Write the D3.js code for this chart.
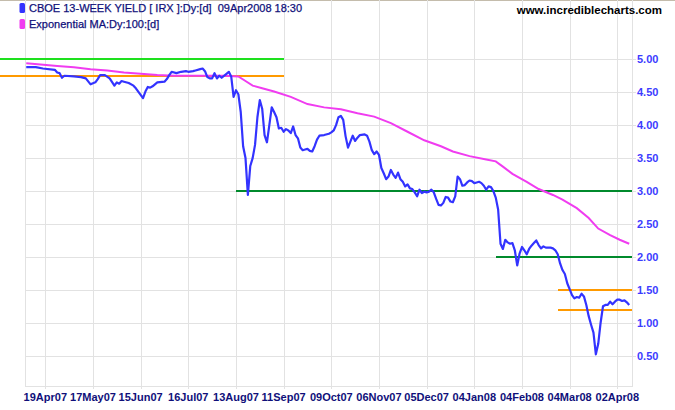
<!DOCTYPE html>
<html>
<head>
<meta charset="utf-8">
<script src="https://cdn.jsdelivr.net/npm/d3@7"></script>
<style>
  html, body { margin: 0; padding: 0; background: #ffffff; }
  svg { display: block; }
  text { font-family: "Liberation Sans", Arial, sans-serif; }
</style>
</head>
<body>
<script>
// ---- DATA (trading-day index, value) ----
const tickLabels = ["19Apr07","17May07","15Jun07","16Jul07","13Aug07","11Sep07","09Oct07","06Nov07","05Dec07","04Jan08","04Feb08","04Mar08","02Apr08"];
const tickDays   = [8, 28, 48, 68, 88, 108, 128, 148, 168, 188, 208, 228, 248];
const yTicks     = [0.5, 1.0, 1.5, 2.0, 2.5, 3.0, 3.5, 4.0, 4.5, 5.0];

const irx = [
  [0,4.88],[4,4.88],[7,4.86],[12,4.84],[13,4.80],[14,4.79],[15,4.72],[16,4.75],[20,4.74],[23,4.73],
  [25,4.71],[27,4.62],[29,4.65],[30,4.70],[31,4.76],[33,4.76],[35,4.71],[37,4.60],[38,4.65],[39,4.63],
  [40,4.67],[41,4.66],[43,4.64],[45,4.60],[46,4.56],[48,4.46],[49,4.41],[50,4.51],[51,4.58],[52,4.57],
  [53,4.59],[55,4.65],[58,4.66],[59,4.70],[60,4.76],[61,4.81],[63,4.79],[65,4.81],[67,4.82],[68,4.81],
  [70,4.82],[71,4.83],[73,4.85],[74,4.86],[75,4.82],[76,4.73],[77,4.71],[78,4.71],[79,4.79],[80,4.71],
  [81,4.75],[82,4.72],[84,4.78],[85,4.81],[86,4.74],[87,4.43],[88,4.53],[89,4.47],[90,4.20],[91,3.68],
  [92,3.50],[93,2.94],[94,3.38],[95,3.50],[96,3.70],[97,4.12],[98,4.38],[99,4.25],[100,3.85],[101,3.74],
  [102,4.00],[103,4.27],[104,4.20],[105,4.12],[106,3.95],[107,3.96],[108,3.90],[109,3.94],[110,3.92],[111,3.88],
  [112,3.98],[113,3.85],[114,3.80],[115,3.66],[116,3.62],[117,3.63],[118,3.64],[119,3.61],[120,3.60],[121,3.68],
  [122,3.78],[123,3.84],[125,3.85],[127,3.87],[128,3.89],[129,3.92],[130,4.00],[131,4.12],[132,4.14],[133,4.08],
  [134,3.83],[135,3.66],[136,3.75],[137,3.84],[138,3.76],[139,3.81],[140,3.85],[142,3.86],[143,3.84],[144,3.75],
  [145,3.62],[146,3.56],[147,3.60],[148,3.55],[149,3.35],[150,3.27],[151,3.18],[152,3.22],[153,3.32],[154,3.25],
  [155,3.20],[156,3.28],[157,3.18],[158,3.14],[159,3.07],[160,3.10],[161,3.04],[162,3.03],[163,2.98],[164,2.92],
  [165,3.02],[166,2.97],[167,2.99],[168,2.98],[169,2.99],[170,3.02],[171,2.98],[172,2.88],[173,2.79],[174,2.78],
  [175,2.82],[176,2.91],[177,2.90],[178,2.84],[179,2.83],[180,2.92],[181,3.22],[182,3.18],[183,3.08],[184,3.09],
  [185,3.13],[186,3.16],[187,3.15],[188,3.12],[189,3.13],[190,3.14],[191,3.12],[192,3.08],[193,3.02],[194,3.07],
  [195,3.06],[196,3.00],[197,2.90],[198,2.72],[199,2.20],[200,2.12],[201,2.26],[202,2.22],[203,2.20],[204,2.21],
  [205,2.10],[206,1.87],[207,2.05],[208,2.15],[209,2.10],[210,2.04],[211,2.12],[212,2.17],[213,2.21],[214,2.25],
  [215,2.18],[216,2.13],[217,2.16],[218,2.14],[220,2.14],[221,2.13],[222,2.10],[223,2.04],[224,1.90],[225,1.80],
  [226,1.74],[227,1.60],[228,1.51],[229,1.42],[230,1.37],[231,1.39],[232,1.38],[233,1.44],[234,1.40],[235,1.27],
  [236,1.10],[237,0.97],[238,0.85],[239,0.52],[240,0.68],[241,1.00],[242,1.25],[243,1.27],[244,1.27],[245,1.32],
  [246,1.28],[247,1.32],[248,1.35],[249,1.35],[250,1.33],[251,1.34],[252,1.31],[253,1.27]
];

const ema100 = [
  [0,4.94],[6,4.92],[13,4.90],[20,4.88],[27,4.85],[34,4.83],[41,4.80],[48,4.78],[55,4.76],[62,4.75],
  [69,4.75],[76,4.75],[83,4.75],[89,4.74],[92,4.67],[95,4.60],[99,4.56],[104,4.51],[111,4.43],[118,4.32],
  [125,4.27],[132,4.24],[139,4.18],[146,4.13],[153,4.03],[160,3.90],[167,3.77],[174,3.68],[179,3.60],[186,3.53],
  [193,3.48],[197,3.45],[200,3.37],[204,3.26],[210,3.14],[215,3.03],[221,2.94],[225,2.87],[231,2.74],[236,2.59],
  [240,2.43],[245,2.33],[249,2.26],[253,2.20]
];

// horizontal support / resistance levels
const levelValues = [5.00, 4.75, 3.00, 2.00, 1.50, 1.20];
const levelFrom   = [-11, -11, 88, 197, 223, 223];
const levelTo     = [108, 108, null, null, null, null];
const levelKinds  = ["bright", "orange", "green", "green", "orange", "orange"];

// ---- LAYOUT ----
const W = 675, H = 410;
const plotLeft = 25, plotRight = 632, plotBottom = 386;
const colors = {
  irx: "#3333ff", ema: "#f03cf0", bright: "#1ee01e", orange: "#ff9a00", green: "#008a2c",
  grid: "#e2e2e2", navy: "#10107a", ylab: "#3c3cff"
};

const x = d3.scaleLinear().domain([8, 248]).range([45.3, 617.3]);
const y = d3.scaleLinear().domain([0, 5]).range([388.6, 59.3]);

const svg = d3.select("body").append("svg").attr("width", W).attr("height", H);

// top frame line
svg.append("line").attr("x1", 0).attr("x2", W).attr("y1", 0.5).attr("y2", 0.5)
  .attr("stroke", "#c4bcac").attr("stroke-width", 1);

// grid
const grid = svg.append("g").attr("shape-rendering", "crispEdges");
grid.selectAll("line.v").data(tickDays).enter().append("line")
  .attr("x1", d => Math.round(x(d)) + 0.5).attr("x2", d => Math.round(x(d)) + 0.5)
  .attr("y1", 0).attr("y2", plotBottom + 3)
  .attr("stroke", colors.grid).attr("stroke-width", 1);
grid.selectAll("line.h").data(yTicks).enter().append("line")
  .attr("x1", plotLeft).attr("x2", plotRight + 4)
  .attr("y1", d => Math.round(y(d)) + 0.5).attr("y2", d => Math.round(y(d)) + 0.5)
  .attr("stroke", colors.grid).attr("stroke-width", 1);
// frame
grid.append("line").attr("x1", plotLeft + 0.5).attr("x2", plotLeft + 0.5).attr("y1", 0).attr("y2", plotBottom + 0.5)
  .attr("stroke", colors.grid);
grid.append("line").attr("x1", plotRight + 0.5).attr("x2", plotRight + 0.5).attr("y1", 0).attr("y2", plotBottom + 0.5)
  .attr("stroke", colors.grid);
grid.append("line").attr("x1", plotLeft).attr("x2", plotRight + 1).attr("y1", plotBottom + 0.5).attr("y2", plotBottom + 0.5)
  .attr("stroke", colors.grid);

// x labels
svg.append("g").selectAll("text").data(tickDays).enter().append("text")
  .attr("x", d => x(d)).attr("y", 401)
  .attr("text-anchor", "middle").attr("font-size", "11px").attr("font-weight", "bold")
  .attr("fill", colors.navy)
  .text((d, i) => tickLabels[i]);

// y labels
const fmt = d3.format(".2f");
svg.append("g").selectAll("text").data(yTicks).enter().append("text")
  .attr("x", 637).attr("y", d => y(d) + 4)
  .attr("font-size", "11px").attr("font-weight", "bold")
  .attr("fill", colors.ylab)
  .text(d => fmt(d));

// level lines
svg.append("g").attr("shape-rendering", "crispEdges").selectAll("line").data(levelValues).enter().append("line")
  .attr("x1", (d, i) => Math.max(0, x(levelFrom[i])))
  .attr("x2", (d, i) => levelTo[i] === null ? plotRight : x(levelTo[i]))
  .attr("y1", d => Math.round(y(d)))
  .attr("y2", d => Math.round(y(d)))
  .attr("stroke", (d, i) => colors[levelKinds[i]])
  .attr("stroke-width", 2);

// EMA line
const line = d3.line().x(d => x(d[0])).y(d => y(d[1]));
svg.append("path").datum(ema100).attr("d", line)
  .attr("fill", "none").attr("stroke", colors.ema).attr("stroke-width", 2);

// IRX line
svg.append("path").datum(irx).attr("d", line)
  .attr("fill", "none").attr("stroke", colors.irx).attr("stroke-width", 2.2)
  .attr("stroke-linejoin", "round");

// legend
const legend = [
  { label: "CBOE 13-WEEK YIELD [ IRX ]:Dy:[d]  09Apr2008 18:30", color: colors.irx },
  { label: "Exponential MA:Dy:100:[d]", color: colors.ema }
];
const lg = svg.append("g");
legend.forEach((d, i) => {
  lg.append("rect").attr("x", 19.5).attr("y", 3 + i * 16).attr("width", 5.5).attr("height", 10)
    .attr("rx", 1.5).attr("fill", d.color);
  lg.append("text").attr("x", 29).attr("y", 12 + i * 15.5)
    .attr("font-size", "11px").attr("fill", colors.navy)
    .attr("stroke", colors.navy).attr("stroke-width", 0.25)
    .style("white-space", "pre")
    .text(d.label);
});

// watermark
svg.append("text").attr("x", 662).attr("y", 13.5).attr("text-anchor", "end")
  .attr("font-size", "11.5px").attr("font-weight", "bold").attr("fill", "#000")
  .text("www.incrediblecharts.com");
</script>
</body>
</html>
